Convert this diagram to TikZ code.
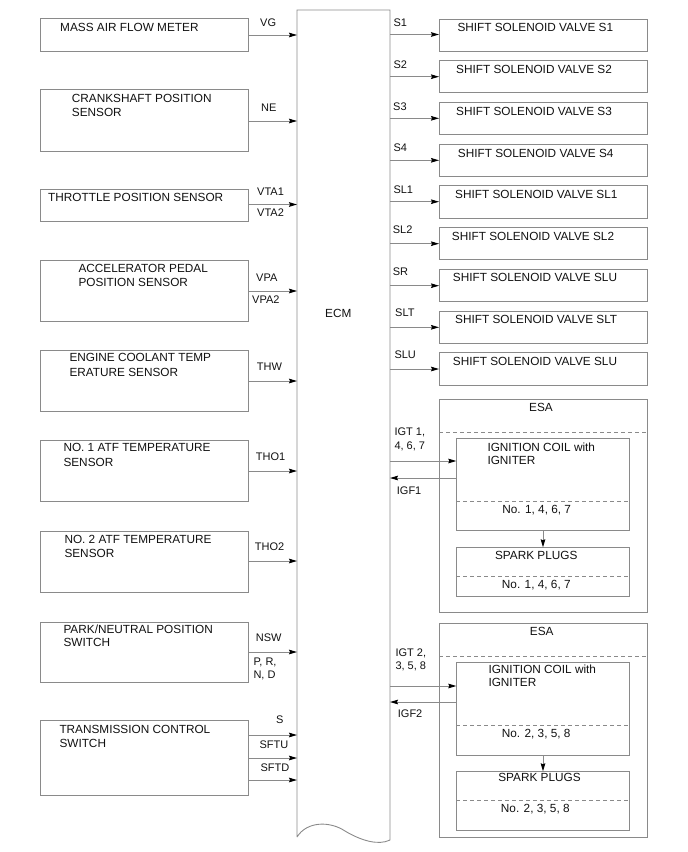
\documentclass[tikz,border=0pt]{standalone}
\usepackage{fontspec}
\setmainfont{Liberation Sans}
\usetikzlibrary{arrows.meta}
\definecolor{lnc}{HTML}{8A8A8A}
\definecolor{txc}{HTML}{111111}
\tikzset{
  box/.style={draw=lnc, line width=0.9pt, rectangle, inner sep=0pt, outer sep=0pt, anchor=north west},
  btxt/.style={anchor=base west, inner sep=0pt, text=txc, font=\fontsize{11.8}{14}\selectfont},
  ctxt/.style={anchor=base, inner sep=0pt, text=txc, font=\fontsize{11.8}{14}\selectfont},
  ltxt/.style={anchor=base west, inner sep=0pt, text=txc, font=\fontsize{11}{13}\selectfont},
  arr/.style={draw=lnc, line width=0.9pt, -{Stealth[length=8pt,width=4.6pt,inset=1pt,color=black]}},
  dsh/.style={draw=lnc, line width=0.9pt, dash pattern=on 4pt off 3pt},
}
\begin{document}
\begin{tikzpicture}[x=1pt,y=-1pt]
\useasboundingbox (0,0) rectangle (688,852);
% ECM
\coordinate (ecmTL) at (297,10);
\coordinate (ecmTR) at (390,10);
\coordinate (ecmBL) at (297,837);
\coordinate (ecmBR) at (390,840);
\draw[lnc, line width=0.9pt] (ecmBL) -- (ecmTL) -- (ecmTR) -- (ecmBR)
  .. controls (378,846) and (360,840) .. (345,831)
  .. controls (330,821) and (307,821) .. (ecmBL);
\node[btxt] (ecmlbl) at (325,317.3) {ECM};

% Left boxes
\node[box, minimum width=208, minimum height=33] (b1) at (40,18) {};
\node[box, minimum width=208, minimum height=62] (b2) at (40,89) {};
\node[box, minimum width=208, minimum height=32] (b3) at (40,189.5) {};
\node[box, minimum width=208, minimum height=61] (b4) at (40,260) {};
\node[box, minimum width=208, minimum height=61] (b5) at (40,350) {};
\node[box, minimum width=208, minimum height=61] (b6) at (40,440.5) {};
\node[box, minimum width=208, minimum height=61] (b7) at (40,531) {};
\node[box, minimum width=208, minimum height=60] (b8) at (40,622) {};
\node[box, minimum width=208, minimum height=75] (b9) at (40,720) {};

\node[btxt] (t1) at (60,31.7) {MASS AIR FLOW METER};
\node[btxt] (t2a) at (71.7,102.3) {CRANKSHAFT POSITION};
\node[btxt] (t2b) at (71.7,116) {SENSOR};
\node[btxt] (t3) at (48,201.3) {THROTTLE POSITION SENSOR};
\node[btxt] (t4a) at (78.3,272.3) {ACCELERATOR PEDAL};
\node[btxt] (t4b) at (78.3,286) {POSITION SENSOR};
\node[btxt] (t5a) at (69.3,361.7) {ENGINE COOLANT TEMP};
\node[btxt] (t5b) at (69.3,376) {ERATURE SENSOR};
\node[btxt] (t6a) at (63.3,451.7) {NO. 1 ATF TEMPERATURE};
\node[btxt] (t6b) at (63.3,466) {SENSOR};
\node[btxt] (t7a) at (64.3,543.3) {NO. 2 ATF TEMPERATURE};
\node[btxt] (t7b) at (64.3,557.3) {SENSOR};
\node[btxt] (t8a) at (63.3,633.3) {PARK/NEUTRAL POSITION};
\node[btxt] (t8b) at (63.3,646.7) {SWITCH};
\node[btxt] (t9a) at (59.3,733.3) {TRANSMISSION CONTROL};
\node[btxt] (t9b) at (59.3,747.3) {SWITCH};

% Left arrows
\draw[arr] (b1.east |- 0,35) -- (ecmTL |- 0,35);
\draw[arr] (b2.east |- 0,121) -- (ecmTL |- 0,121);
\draw[arr] (b3.east |- 0,204.5) -- (ecmTL |- 0,204.5);
\draw[arr] (b4.east |- 0,291) -- (ecmTL |- 0,291);
\draw[arr] (b5.east |- 0,381) -- (ecmTL |- 0,381);
\draw[arr] (b6.east |- 0,471) -- (ecmTL |- 0,471);
\draw[arr] (b7.east |- 0,561) -- (ecmTL |- 0,561);
\draw[arr] (b8.east |- 0,652) -- (ecmTL |- 0,652);
\draw[arr] (b9.east |- 0,735) -- (ecmTL |- 0,735);
\draw[arr] (b9.east |- 0,758) -- (ecmTL |- 0,758);
\draw[arr] (b9.east |- 0,780) -- (ecmTL |- 0,780);

\node[ltxt] (l1) at (260,26.7) {VG};
\node[ltxt] (l2) at (261,111) {NE};
\node[ltxt] (l3a) at (257,195) {VTA1};
\node[ltxt] (l3b) at (257,216.7) {VTA2};
\node[ltxt] (l4a) at (256,281) {VPA};
\node[ltxt] (l4b) at (252,303.3) {VPA2};
\node[ltxt] (l5) at (256.7,370.7) {THW};
\node[ltxt] (l6) at (255.7,460) {THO1};
\node[ltxt] (l7) at (254.7,550) {THO2};
\node[ltxt] (l8a) at (255.7,641) {NSW};
\node[ltxt] (l8b) at (253.3,665) {P, R,};
\node[ltxt] (l8c) at (253.3,678.3) {N, D};
\node[ltxt] (l9a) at (276,723.3) {S};
\node[ltxt] (l9b) at (259.3,748.7) {SFTU};
\node[ltxt] (l9c) at (260.3,771.7) {SFTD};

% Right solenoid boxes
\node[box, minimum width=208, minimum height=32.5] (r1) at (439,19) {};
\node[box, minimum width=208, minimum height=32.5] (r2) at (439,60.3) {};
\node[box, minimum width=208, minimum height=32.5] (r3) at (439,102.3) {};
\node[box, minimum width=208, minimum height=32.5] (r4) at (439,144.3) {};
\node[box, minimum width=208, minimum height=32.5] (r5) at (439,185.7) {};
\node[box, minimum width=208, minimum height=32.5] (r6) at (439,227.3) {};
\node[box, minimum width=208, minimum height=32.5] (r7) at (439,269.3) {};
\node[box, minimum width=208, minimum height=32.5] (r8) at (439,311) {};
\node[box, minimum width=208, minimum height=32.5] (r9) at (439,352.7) {};

\node[btxt] (rt1) at (457.3,31.7) {SHIFT SOLENOID VALVE S1};
\node[btxt] (rt2) at (456,73.3) {SHIFT SOLENOID VALVE S2};
\node[btxt] (rt3) at (456,115.3) {SHIFT SOLENOID VALVE S3};
\node[btxt] (rt4) at (457.7,157.3) {SHIFT SOLENOID VALVE S4};
\node[btxt] (rt5) at (455,198.3) {SHIFT SOLENOID VALVE SL1};
\node[btxt] (rt6) at (451.7,240.7) {SHIFT SOLENOID VALVE SL2};
\node[btxt] (rt7) at (452.7,281.7) {SHIFT SOLENOID VALVE SLU};
\node[btxt] (rt8) at (455,323.3) {SHIFT SOLENOID VALVE SLT};
\node[btxt] (rt9) at (452.7,365) {SHIFT SOLENOID VALVE SLU};

\draw[arr] (ecmTR |- 0,34.5) -- (r1.west |- 0,34.5);
\draw[arr] (ecmTR |- 0,76.7) -- (r2.west |- 0,76.7);
\draw[arr] (ecmTR |- 0,118.3) -- (r3.west |- 0,118.3);
\draw[arr] (ecmTR |- 0,160.3) -- (r4.west |- 0,160.3);
\draw[arr] (ecmTR |- 0,201.7) -- (r5.west |- 0,201.7);
\draw[arr] (ecmTR |- 0,243.7) -- (r6.west |- 0,243.7);
\draw[arr] (ecmTR |- 0,285.7) -- (r7.west |- 0,285.7);
\draw[arr] (ecmTR |- 0,327.3) -- (r8.west |- 0,327.3);
\draw[arr] (ecmTR |- 0,369) -- (r9.west |- 0,369);

\node[ltxt] (rl1) at (393.3,26.7) {S1};
\node[ltxt] (rl2) at (393.3,68.3) {S2};
\node[ltxt] (rl3) at (393,110) {S3};
\node[ltxt] (rl4) at (393.3,151.7) {S4};
\node[ltxt] (rl5) at (393.3,193.3) {SL1};
\node[ltxt] (rl6) at (392.7,233.3) {SL2};
\node[ltxt] (rl7) at (392.7,275) {SR};
\node[ltxt] (rl8) at (395,316.7) {SLT};
\node[ltxt] (rl9) at (394.3,358.3) {SLU};

% ESA 1
\node[box, minimum width=208, minimum height=213.3] (esa1) at (439,399) {};
\draw[dsh] (esa1.west |- 0,432) -- (esa1.east |- 0,432);
\node[ctxt] (esa1l) at (541,411.7) {ESA};
\node[box, minimum width=173, minimum height=92.4] (coil1) at (456.3,438.3) {};
\draw[dsh] (coil1.west |- 0,501.3) -- (coil1.east |- 0,501.3);
\node[btxt] (c1a) at (487.3,451) {IGNITION COIL with};
\node[btxt] (c1b) at (487.3,464) {IGNITER};
\node[ctxt] (c1n) at (536.7,513.3) {No. 1, 4, 6, 7};
\node[box, minimum width=173, minimum height=49.4] (sp1) at (456.3,547.3) {};
\draw[dsh] (sp1.west |- 0,576) -- (sp1.east |- 0,576);
\node[ctxt] (s1a) at (536.3,559.3) {SPARK PLUGS};
\node[ctxt] (s1n) at (536.3,588.3) {No. 1, 4, 6, 7};
\draw[arr] (coil1.south -| 543,0) -- (sp1.north -| 543,0);
\draw[arr] (ecmTR |- 0,461) -- (coil1.west |- 0,461);
\draw[arr] (coil1.west |- 0,478) -- (ecmTR |- 0,478);
\node[ltxt] (ig1a) at (394.3,435) {IGT 1,};
\node[ltxt] (ig1b) at (394.3,449) {4, 6, 7};
\node[ltxt] (ig1c) at (396.7,494) {IGF1};

% ESA 2
\node[box, minimum width=208, minimum height=214] (esa2) at (439,623) {};
\draw[dsh] (esa2.west |- 0,656) -- (esa2.east |- 0,656);
\node[ctxt] (esa2l) at (541.7,635) {ESA};
\node[box, minimum width=173, minimum height=93] (coil2) at (456.3,662.3) {};
\draw[dsh] (coil2.west |- 0,725.7) -- (coil2.east |- 0,725.7);
\node[btxt] (c2a) at (488.3,673.3) {IGNITION COIL with};
\node[btxt] (c2b) at (488.3,686.7) {IGNITER};
\node[ctxt] (c2n) at (536.2,737) {No. 2, 3, 5, 8};
\node[box, minimum width=173, minimum height=59] (sp2) at (456.3,771.3) {};
\draw[dsh] (sp2.west |- 0,800.7) -- (sp2.east |- 0,800.7);
\node[ctxt] (s2a) at (539.5,781.7) {SPARK PLUGS};
\node[ctxt] (s2n) at (535.3,812) {No. 2, 3, 5, 8};
\draw[arr] (coil2.south -| 543,0) -- (sp2.north -| 543,0);
\draw[arr] (ecmTR |- 0,686) -- (coil2.west |- 0,686);
\draw[arr] (coil2.west |- 0,702) -- (ecmTR |- 0,702);
\node[ltxt] (ig2a) at (395.3,656) {IGT 2,};
\node[ltxt] (ig2b) at (395.3,669.3) {3, 5, 8};
\node[ltxt] (ig2c) at (397.7,717.3) {IGF2};
\end{tikzpicture}
\end{document}
